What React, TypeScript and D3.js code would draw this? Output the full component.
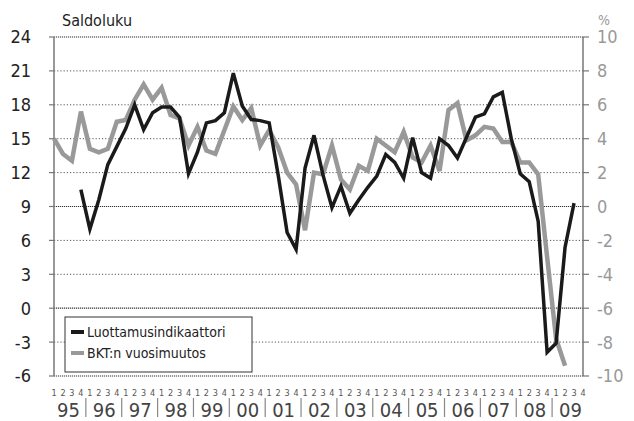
import React from "react";
import * as d3 from "d3";

const years = ["95", "96", "97", "98", "99", "00", "01", "02", "03", "04", "05", "06", "07", "08", "09"];
const quarterLabels = ["1", "2", "3", "4"];

// Luottamusindikaattori (saldoluku, left axis), 1995Q1..2009Q4
const luottamus: (number | null)[] = [
  null, null, null, 10.5,
  7.0, 9.6, 12.7, 14.3,
  15.9, 18.0, 15.8, 17.3,
  17.8, 17.8, 16.9, 11.9,
  13.8, 16.4, 16.6, 17.3,
  20.8, 17.9, 16.7, 16.6,
  16.4, 11.8, 6.7, 5.2,
  12.4, 15.3, 11.8, 8.9,
  10.8, 8.4, 9.6, 10.7,
  11.7, 13.6, 12.9, 11.5,
  15.1, 12.0, 11.5, 15.0,
  14.4, 13.3, 15.1, 16.9,
  17.2, 18.7, 19.1, 15.0,
  11.9, 11.2, 7.7, -3.9,
  -3.1, 5.4, 9.3, null,
];

// BKT:n vuosimuutos (%, right axis)
const bkt: (number | null)[] = [
  4.0, 3.1, 2.7, 5.6,
  3.4, 3.2, 3.4, 5.0,
  5.1, 6.3, 7.2, 6.3,
  7.0, 5.4, 5.2, 3.6,
  4.7, 3.3, 3.1, 4.5,
  5.9, 5.1, 5.8, 3.6,
  4.5, 3.5, 2.0, 1.3,
  -1.4, 2.0, 1.9, 3.6,
  1.6, 1.0, 2.4, 2.1,
  4.0, 3.6, 3.2, 4.4,
  2.9, 2.6, 3.6, 2.1,
  5.7, 6.1, 3.9, 4.2,
  4.7, 4.6, 3.8, 3.8,
  2.6, 2.6, 1.9, -3.0,
  -7.8, -9.4, null, null,
];

const leftTicks = [24, 21, 18, 15, 12, 9, 6, 3, 0, -3, -6];
const rightTicks = [10, 8, 6, 4, 2, 0, -2, -4, -6, -8, -10];
const darkGrid = [24, 9, 0, -6];

const FONT = "'Liberation Sans Narrow', 'DejaVu Sans Condensed', 'Arial Narrow', sans-serif";

export default function App() {
  const W = 634, H = 421;
  const nQ = years.length * 4;
  const x = d3.scaleLinear().domain([0, nQ - 1]).range([54, 583]);
  const yL = d3.scaleLinear().domain([-6, 24]).range([376, 37]);
  const yR = d3.scaleLinear().domain([-10, 10]).range([376, 37]);

  const lineL = d3.line<number | null>()
    .defined((d) => d !== null)
    .x((_, i) => x(i))
    .y((d) => yL(d as number));
  const lineR = d3.line<number | null>()
    .defined((d) => d !== null)
    .x((_, i) => x(i))
    .y((d) => yR(d as number));

  return (
    <div style={{ position: "absolute", left: 0, top: 0 }}>
      <svg width={W} height={H} style={{ display: "block", background: "#fff" }} fontFamily={FONT}>
        {/* gridlines */}
        {leftTicks.map((t) => {
          const dark = darkGrid.includes(t);
          return (
            <line key={"g" + t} x1={54} x2={583} y1={yL(t)} y2={yL(t)}
              stroke={dark ? "#333" : "#555"} strokeWidth={dark ? 1.2 : 1}
              strokeDasharray={dark ? "1.2,0.8" : "1.2,2"} />
          );
        })}
        {/* axes */}
        <line x1={54} x2={54} y1={37} y2={376} stroke="#777" strokeWidth={1.5} />
        <line x1={583} x2={583} y1={37} y2={376} stroke="#777" strokeWidth={1.5} />
        {leftTicks.map((t) => (
          <line key={"lt" + t} x1={49} x2={54} y1={yL(t)} y2={yL(t)} stroke="#777" strokeWidth={1.2} />
        ))}
        {rightTicks.map((t) => (
          <line key={"rt" + t} x1={583} x2={589} y1={yR(t)} y2={yR(t)} stroke="#777" strokeWidth={1.2} />
        ))}
        {leftTicks.map((t) => (
          <text key={"ll" + t} x={31} y={yL(t)} dy="0.36em" textAnchor="end" fontSize={18} fill="#222">
            {t}
          </text>
        ))}
        {rightTicks.map((t) => (
          <text key={"rl" + t} x={597} y={yR(t)} dy="0.36em" textAnchor="start" fontSize={18} fill="#999">
            {t}
          </text>
        ))}
        <text x={62} y={26} fontSize={16} fill="#222">Saldoluku</text>
        <text x={598} y={25} fontSize={14} fill="#999">%</text>

        {/* series */}
        <path d={lineR(bkt) || ""} fill="none" stroke="#999" strokeWidth={4.5} strokeLinejoin="miter" />
        <path d={lineL(luottamus) || ""} fill="none" stroke="#1a1a1a" strokeWidth={3.5} strokeLinejoin="miter" />

        {/* legend */}
        <rect x={65} y={317} width={187} height={55} fill="#fff" stroke="#333" strokeWidth={1} />
        <line x1={71} x2={84} y1={332} y2={332} stroke="#1a1a1a" strokeWidth={4} />
        <text x={87} y={332} dy="0.35em" fontSize={14} fill="#222">Luottamusindikaattori</text>
        <line x1={71} x2={84} y1={353} y2={353} stroke="#999" strokeWidth={4} />
        <text x={87} y={353} dy="0.35em" fontSize={14} fill="#222">BKT:n vuosimuutos</text>

        {/* x axis labels */}
        {d3.range(nQ).map((i) => (
          <text key={"q" + i} x={x(i)} y={396} textAnchor="middle" fontSize={9} fill="#555">
            {quarterLabels[i % 4]}
          </text>
        ))}
        {years.map((yr, k) => (
          <g key={"y" + yr}>
            {k > 0 && (
              <line x1={x(4 * k) - 4} x2={x(4 * k) - 4} y1={398} y2={417} stroke="#888" strokeWidth={1.2} />
            )}
            <text x={x(4 * k) + 3} y={417} textAnchor="start" fontSize={20} fill="#444">
              {yr}
            </text>
          </g>
        ))}
      </svg>
    </div>
  );
}
